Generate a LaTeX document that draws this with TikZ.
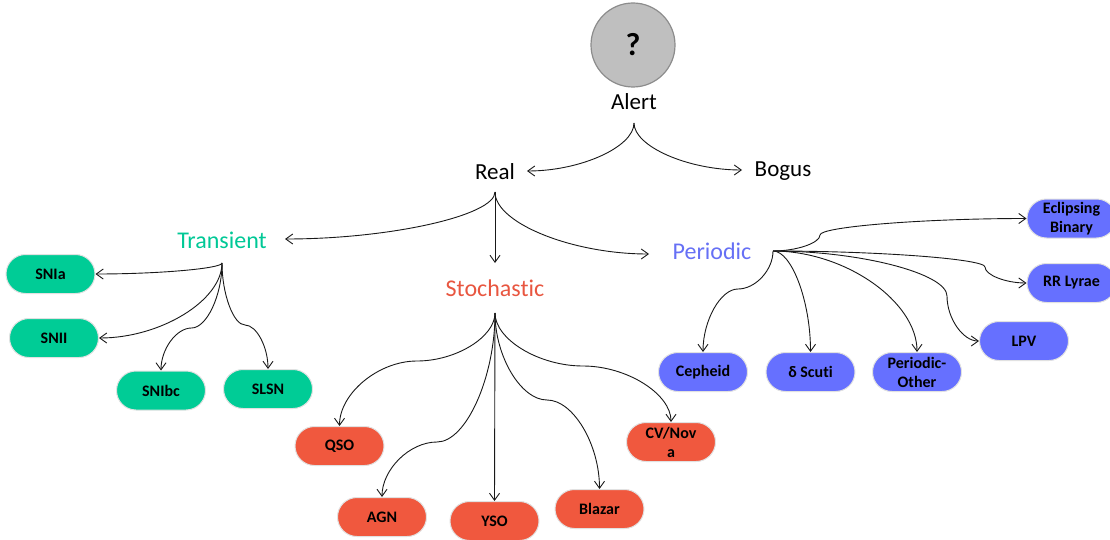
\documentclass[tikz,border=0pt]{standalone}
\usepackage{fontspec}
\setmainfont[Ligatures=NoCommon]{Carlito}
\usetikzlibrary{arrows.meta,calc}
\definecolor{gfill}{RGB}{0,204,150}
\definecolor{rfill}{RGB}{240,88,62}
\definecolor{bfill}{RGB}{102,112,255}
\definecolor{gtext}{RGB}{0,200,150}
\definecolor{rtext}{RGB}{232,86,64}
\definecolor{btext}{RGB}{102,112,245}
\definecolor{cfill}{RGB}{191,191,191}
\definecolor{cdraw}{RGB}{140,140,140}
\definecolor{pilledge}{RGB}{225,225,225}
\definecolor{linecol}{RGB}{25,25,25}
\tikzset{
  pill/.style={rectangle, rounded corners=19.5pt, minimum width=89pt, minimum height=39pt,
    inner sep=0pt, draw=pilledge, line width=1pt, align=center, text=black,
    font=\fontsize{16}{19}\selectfont\bfseries},
  gpill/.style={pill, fill=gfill},
  rpill/.style={pill, fill=rfill},
  bpill/.style={pill, fill=bfill},
  lbl/.style={inner sep=0pt, anchor=base, font=\fontsize{23}{27}\selectfont},
  cat/.style={inner sep=0pt, anchor=base, font=\fontsize{24}{28}\selectfont},
  arr/.style={draw=linecol, line width=0.9pt, -{Straight Barb[length=7pt,width=10pt]}}
}
\newcommand\vhconn[2]{%
  \coordinate (tmpP) at ($(#1)!0.5!(#2)$);
  \draw[arr] (#1) .. controls (#1 |- tmpP) and (tmpP |- #2) .. (#2);}
\newcommand\hvconn[2]{%
  \coordinate (tmpP) at ($(#1)!0.5!(#2)$);
  \draw[arr] (#1) .. controls (tmpP |- #1) and (#2 |- tmpP) .. (#2);}
\newcommand\vsconn[3]{%
  \coordinate (tmpA) at ($(#1)!0.5!(#3)$);
  \coordinate (tmpB) at ($(#3)!0.5!(#2)$);
  \draw[arr] (#1) .. controls (#1 |- tmpA) and (tmpA |- #3) .. (#3)
                  .. controls (tmpB |- #3) and (#2 |- tmpB) .. (#2);}
\newcommand\hsconn[3]{%
  \coordinate (tmpA) at ($(#1)!0.5!(#3)$);
  \coordinate (tmpB) at ($(#3)!0.5!(#2)$);
  \draw[arr] (#1) .. controls (tmpA |- #1) and (#3 |- tmpA) .. (#3)
                  .. controls (#3 |- tmpB) and (tmpB |- #2) .. (#2);}
\begin{document}
\begin{tikzpicture}[x=1pt,y=-1pt]
\useasboundingbox (0,0) rectangle (1110,540);

% top
\node[circle, minimum size=84pt, inner sep=0pt, fill=cfill, draw=cdraw, line width=1.2pt,
      font=\fontsize{32}{36}\selectfont\bfseries] (q) at (633,45) {?};
\node[lbl] (alert) at (634,110) {Alert};
\node[lbl] (real) at (495,179) {Real};
\node[lbl] (bogus) at (783,176) {Bogus};
\node[cat, text=gtext] (trans) at (222,248) {Transient};
\node[cat, text=rtext] (stoch) at (495,296) {Stochastic};
\node[cat, text=btext] (per) at (712,259) {Periodic};

% ports
\coordinate (alertS) at (634,123);
\coordinate (realE) at (527,171);
\coordinate (realS) at (495,192);
\coordinate (bogusW) at (742,170);
\coordinate (transE) at (285,239);
\coordinate (transS) at (222,263);
\coordinate (stochN) at (495,263);
\coordinate (stochS) at (495,313);
\coordinate (perW) at (649,254);
\coordinate (perE) at (773,251);

% green
\node[gpill] (snia) at (50.5,274) {SNIa};
\node[gpill] (snii) at (54,338) {SNII};
\node[gpill] (snibc) at (161,390.5) {SNIbc};
\node[gpill] (slsn) at (268,389) {SLSN};
% red
\node[rpill] (qso) at (339.5,446) {QSO};
\node[rpill] (agn) at (382,517) {AGN};
\node[rpill] (yso) at (494.5,521) {YSO};
\node[rpill] (blazar) at (599.5,509) {Blazar};
\node[rpill] (cvnova) at (671,442) {CV/Nov\\a};
% blue
\node[bpill] (eb) at (1071.5,218.5) {Eclipsing\\Binary};
\node[bpill] (rr) at (1071.5,283) {RR Lyrae};
\node[bpill] (lpv) at (1024,341) {LPV};
\node[bpill] (cep) at (703,372) {Cepheid};
\node[bpill] (dsc) at (810.5,372) {δ Scuti};
\node[bpill] (po) at (917,372) {Periodic-\\Other};

% mid points of S-shaped connectors
\coordinate (mSNIbc) at (191.5,328);
\coordinate (mSLSN) at (245,325);
\coordinate (mQSO) at (417,361);
\coordinate (mAGN) at (437,442);
\coordinate (mBlazar) at (547,400);
\coordinate (mCV) at (583,366);
\coordinate (mEB) at (820,235);
\coordinate (mRR) at (985,267);
\coordinate (mLPV) at (947,296);
\coordinate (mCep) at (738,289);

% connectors
\vhconn{alertS}{realE}
\vhconn{alertS}{bogusW}
\vhconn{realS}{transE}
\draw[arr] (realS) -- (stochN);
\vhconn{realS}{perW}

\vhconn{transS}{snia.east}
\vhconn{transS}{snii.east}
\vsconn{transS}{snibc.north}{mSNIbc}
\vsconn{transS}{slsn.north}{mSLSN}

\vsconn{stochS}{qso.north}{mQSO}
\vsconn{stochS}{agn.north}{mAGN}
\draw[arr] (stochS) -- (yso.north);
\vsconn{stochS}{blazar.north}{mBlazar}
\vsconn{stochS}{cvnova.north}{mCV}

\hsconn{perE}{eb.west}{mEB}
\hsconn{perE}{rr.west}{mRR}
\hsconn{perE}{lpv.west}{mLPV}
\vsconn{perE}{cep.north}{mCep}
\hvconn{perE}{dsc.north}
\hvconn{perE}{po.north}
\end{tikzpicture}
\end{document}
